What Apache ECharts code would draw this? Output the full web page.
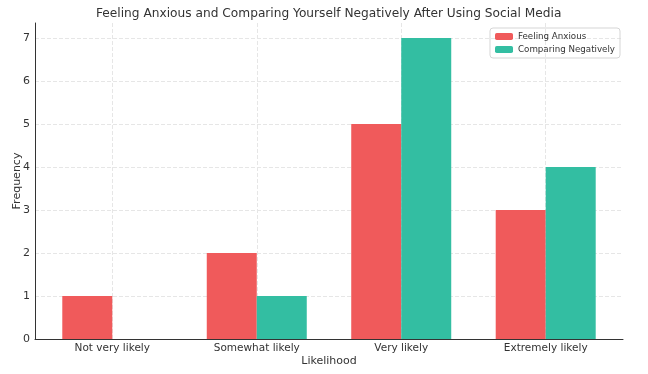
<!DOCTYPE html>
<html><head><meta charset="utf-8">
<script src="https://cdn.jsdelivr.net/npm/echarts@6/dist/echarts.min.js"></script>
<style>html,body{margin:0;padding:0;background:#fff}#c{width:648px;height:374px}</style>
</head><body><div id="c"></div>
<script>
const categories = ['Not very likely', 'Somewhat likely', 'Very likely', 'Extremely likely'];
const feelingAnxious = [1, 2, 5, 3];
const comparingNegatively = [0, 1, 7, 4];
const yTicks = [0, 1, 2, 3, 4, 5, 6, 7];
const titleText = 'Feeling Anxious and Comparing Yourself Negatively After Using Social Media';

const catIdx = categories.map((_, i) => i);
const font = 'DejaVu Sans';
const chart = echarts.init(document.getElementById('c'), null, {renderer: 'canvas'});
chart.setOption({
  animation: false,
  title: {text: titleText, left: 96, top: 8, padding: 0,
    textStyle: {fontFamily: font, fontSize: 12.2, fontWeight: 'normal', color: '#333'}},
  legend: {
    orient: 'vertical', right: 28, top: 28, itemWidth: 18, itemHeight: 7, itemGap: 4,
    padding: [4, 5], borderColor: '#d5d5d5', borderWidth: 1, borderRadius: 3,
    textStyle: {fontFamily: font, fontSize: 8.7, color: '#333'},
    data: ['Feeling Anxious', 'Comparing Negatively']
  },
  grid: {left: 35, right: 25, top: 23, bottom: 35, outerBoundsMode: 'none', containLabel: false},
  xAxis: {
    type: 'value', min: -0.535, max: 3.535,
    name: 'Likelihood', nameLocation: 'middle', nameGap: 22, nameMoveOverlap: false,
    nameTextStyle: {fontFamily: font, fontSize: 11, color: '#333', verticalAlign: 'middle'},
    axisLine: {show: true, onZero: false, lineStyle: {color: '#333', width: 1}},
    axisTick: {show: false, customValues: catIdx},
    axisLabel: {customValues: catIdx, formatter: v => categories[Math.round(v)] || '',
      fontFamily: font, fontSize: 10.5, color: '#333', margin: 4},
    splitLine: {show: true, lineStyle: {color: '#e6e6e6', type: [4, 2], width: 1}}
  },
  yAxis: {
    type: 'value', min: 0, max: 7.35,
    name: 'Frequency', nameLocation: 'middle', nameGap: 18, nameMoveOverlap: false,
    nameTextStyle: {fontFamily: font, fontSize: 11, color: '#333', verticalAlign: 'middle'},
    axisLine: {show: true, onZero: false, lineStyle: {color: '#333', width: 1}},
    axisTick: {show: false, customValues: yTicks},
    axisLabel: {customValues: yTicks, fontFamily: font, fontSize: 11, color: '#333', margin: 5},
    splitLine: {show: true, lineStyle: {color: '#e6e6e6', type: [4, 2], width: 1}}
  },
  series: [
    {name: 'Feeling Anxious', type: 'bar', barWidth: 50, barGap: '0%',
     itemStyle: {color: '#F05A5B'}, data: feelingAnxious.map((v, i) => [i, v])},
    {name: 'Comparing Negatively', type: 'bar', barWidth: 50, barGap: '0%',
     itemStyle: {color: '#33BEA2'}, data: comparingNegatively.map((v, i) => [i, v])}
  ]
});
</script></body></html>
